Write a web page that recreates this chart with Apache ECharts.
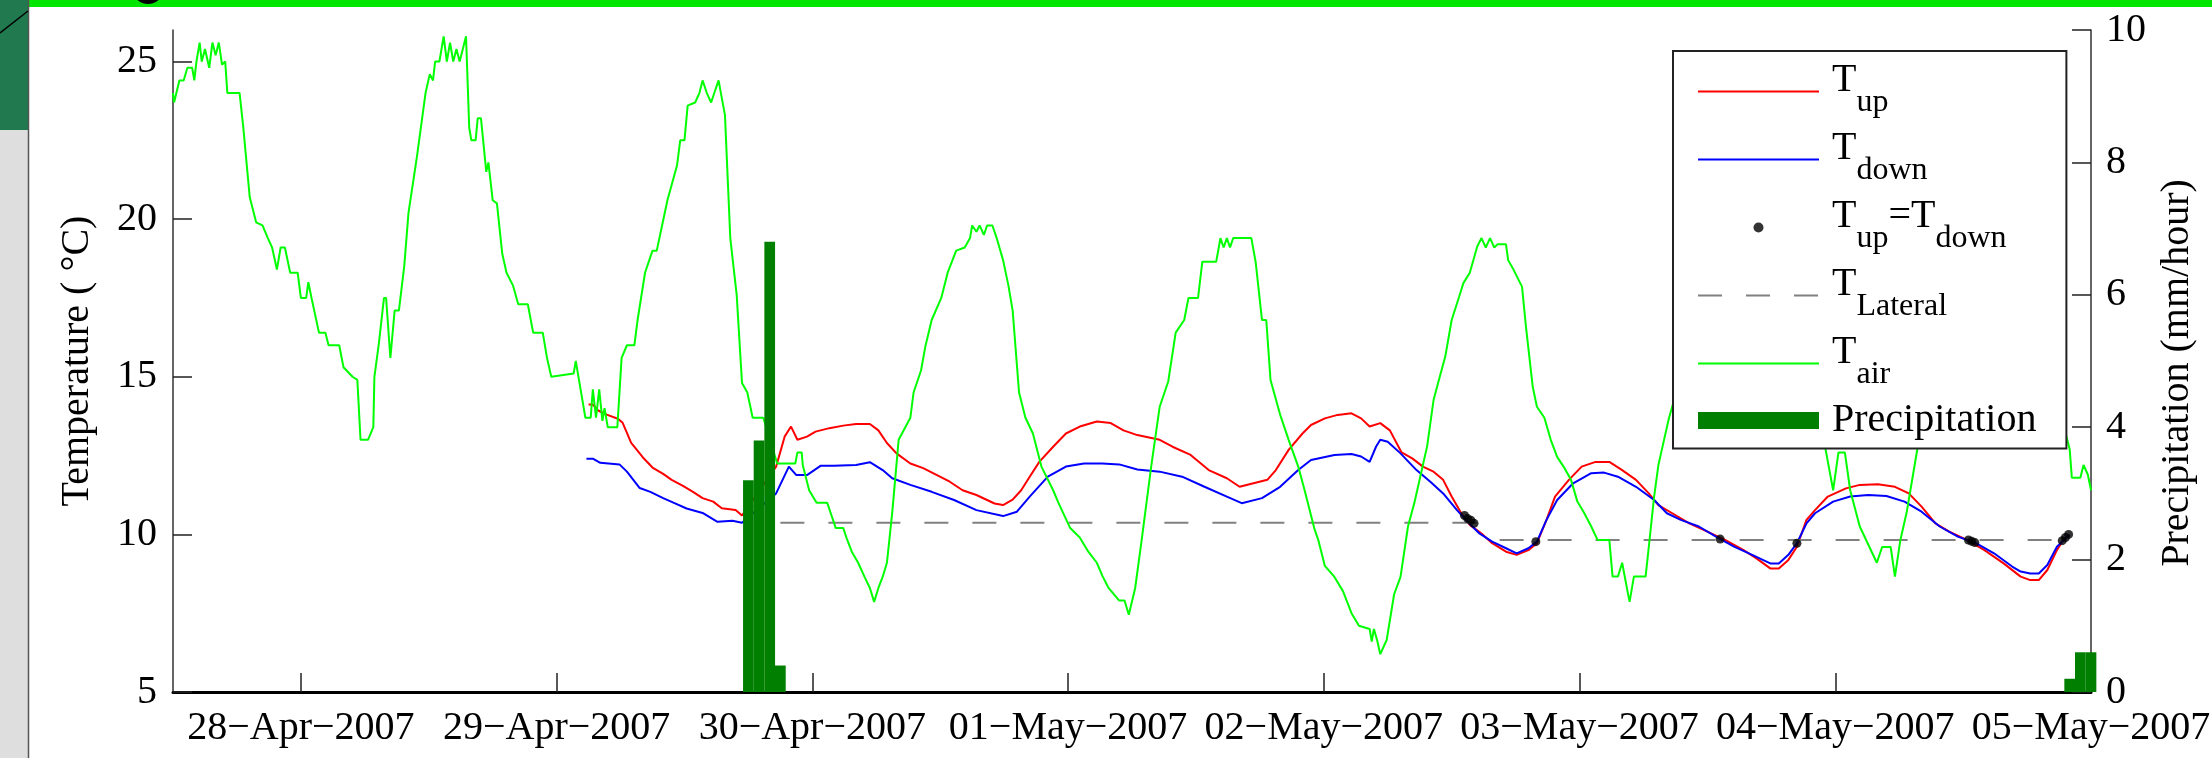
<!DOCTYPE html>
<html>
<head>
<meta charset="utf-8">
<title>Stream temperatures and precipitation, 28 Apr - 5 May 2007</title>
<script src="https://cdn.jsdelivr.net/npm/echarts@6.0.0/dist/echarts.min.js"></script>
<style>
  html, body { margin: 0; padding: 0; background: #fff; }
  #chart { width: 2212px; height: 758px; }
</style>
</head>
<body>
<div id="chart"></div>
<script>
// time is in hours counted from 28-Apr-2007 00:00
const dayTicks = [0, 24, 48, 72, 96, 120, 144, 168]
const dayLabels = ['28−Apr−2007', '29−Apr−2007', '30−Apr−2007', '01−May−2007',
  '02−May−2007', '03−May−2007', '04−May−2007', '05−May−2007']
const tempTicks = [5, 10, 15, 20, 25]
const precipTicks = [0, 2, 4, 6, 8, 10]

// T_up (red)
const upTime = [27, 27.4, 27.9, 28.7, 29.75, 30.2, 31, 32.1, 33, 34, 34.8, 35.9, 36.8, 37.7, 38.7, 39.5, 40.8, 41.4, 44.6, 45.4,
  46, 46.6, 47.5, 48.3, 49.6, 50.9, 52.1, 53.4, 54.2, 55, 55.9, 57.2, 58.4, 59.7, 60.9, 62.1, 63.4, 65.1, 65.9, 66.8,
  67.6, 68.4, 69.3, 70.6, 71.8, 73.1, 74.7, 76, 77.2, 78.5, 80.6, 81.8, 83.5, 85.2, 86.9, 88.1, 89.4, 90.7, 91.5, 92.7,
  94, 94.8, 96.1, 97.3, 98.6, 99.5, 100.3, 101.3, 102.2, 103.3, 104.3, 105.3, 106.3, 107.2, 108, 108.9, 109.7, 110.8, 111.8, 113.1,
  114.1, 115.2, 116, 116.9, 117.7, 119, 120.2, 121.5, 122.8, 124, 125.3, 126.5, 127.4, 128.7, 130.3, 132, 133.7, 135.4, 136.6, 137.9,
  138.7, 139.6, 140.4, 141.3, 142.1, 143.3, 145, 146.3, 148, 149.6, 150.9, 152.1, 153.4, 154.7, 156.4, 158, 159.8, 161.4, 162.3, 163.1,
  163.9, 164.8, 165.4, 166]
const upTemp = [14.12, 14.12, 13.93, 13.8, 13.67, 13.54, 12.9, 12.44, 12.12, 11.92, 11.73, 11.53, 11.35, 11.15, 11.04, 10.83, 10.77, 10.6, 12.15, 13.1,
  13.42, 13.0, 13.1, 13.26, 13.37, 13.45, 13.5, 13.5, 13.3, 12.9, 12.57, 12.25, 12.1, 11.88, 11.67, 11.4, 11.25, 10.98, 10.93, 11.1,
  11.4, 11.83, 12.3, 12.78, 13.2, 13.42, 13.58, 13.53, 13.3, 13.15, 13.0, 12.78, 12.52, 12.04, 11.78, 11.51, 11.62, 11.73, 12.04, 12.68,
  13.2, 13.47, 13.68, 13.79, 13.84, 13.68, 13.42, 13.53, 13.3, 12.6, 12.41, 12.15, 11.99, 11.73, 11.2, 10.67, 10.3, 10.03, 9.72, 9.45,
  9.35, 9.5, 9.72, 10.46, 11.2, 11.73, 12.15, 12.3, 12.3, 12.04, 11.73, 11.3, 10.93, 10.67, 10.35, 10.09, 9.82, 9.5, 9.24, 8.92,
  8.92, 9.19, 9.61, 10.46, 10.77, 11.2, 11.46, 11.57, 11.59, 11.51, 11.3, 10.88, 10.35, 10.09, 9.82, 9.5, 9.08, 8.66, 8.55, 8.55,
  8.87, 9.5, 9.82, 9.98]

// T_down (blue)
const downTime = [26.8, 27.4, 28.1, 29.9, 30.6, 31.8, 32.8, 34, 34.8, 36.2, 37.7, 39.1, 40.5, 41.4, 44.6, 45.8, 46.5, 47.5, 48.8, 50,
  52.1, 53.4, 54.6, 55.5, 57.2, 59.2, 61.3, 63.4, 65.9, 67.2, 68.4, 70.1, 71.8, 73.5, 75.2, 76.8, 78.5, 80.6, 82.7, 84.8,
  86.9, 88.3, 90.2, 91.9, 93.6, 94.8, 97, 98.6, 99.5, 100.3, 100.9, 101.3, 102, 103.2, 104.7, 106, 107.2, 108.5, 109.5, 110.6,
  111.8, 113.1, 114.1, 115.2, 116, 116.9, 117.9, 119.4, 121.1, 122.3, 123.6, 125.3, 127, 128.2, 129.5, 131.2, 132.8, 134.5, 136.2, 137.9,
  138.7, 139.6, 140.4, 141.3, 142.1, 143.8, 145.4, 147.1, 148.8, 150.5, 152.1, 153.8, 155.5, 157.2, 158.9, 160.6, 161.4, 162.3, 163.1, 163.9,
  164.8, 165.6, 166]
const downTemp = [12.4, 12.4, 12.27, 12.22, 11.99, 11.47, 11.35, 11.15, 11.03, 10.82, 10.68, 10.4, 10.43, 10.37, 11.3, 12.15, 11.88, 11.88, 12.18, 12.18,
  12.2, 12.29, 12.04, 11.78, 11.57, 11.35, 11.09, 10.77, 10.58, 10.72, 11.2, 11.83, 12.15, 12.25, 12.25, 12.22, 12.06, 11.99, 11.83, 11.51,
  11.2, 10.99, 11.15, 11.51, 12.04, 12.36, 12.52, 12.55, 12.47, 12.3, 12.78, 13.0, 12.94, 12.57, 12.04, 11.67, 11.3, 10.77, 10.4, 10.03,
  9.77, 9.56, 9.4, 9.56, 9.77, 10.46, 11.09, 11.62, 11.94, 11.96, 11.83, 11.51, 11.09, 10.67, 10.46, 10.25, 9.93, 9.61, 9.35, 9.08,
  9.08, 9.35, 9.72, 10.35, 10.67, 11.04, 11.2, 11.25, 11.22, 11.04, 10.72, 10.25, 9.93, 9.72, 9.4, 8.98, 8.82, 8.76, 8.76, 9.03,
  9.61, 9.87, 9.98]

// points where T_up = T_down
const eqTime = [109.2, 109.5, 109.8, 110.1, 115.9, 133.2, 140.4, 156.5, 156.8, 157.1, 165.3, 165.6, 165.9]
const eqTemp = [10.6, 10.5, 10.45, 10.35, 9.77, 9.85, 9.72, 9.82, 9.78, 9.74, 9.8, 9.9, 10.0]

// T_Lateral (dashed), null breaks the line between the two levels
const lateralTime = [45, 112.4, 112.45, 112.5, 166]
const lateralTemp = [10.37, 10.37, null, 9.82, 9.82]

// T_air (green)
const airTime = [-12, -11.9, -11.4, -11, -10.65, -10.2, -10, -9.8, -9.5, -9.3, -9, -8.6, -8.3, -8, -7.7, -7.4, -7.1, -6.9, -5.75, -5.4,
  -4.8, -4.2, -3.6, -3.1, -2.7, -2.25, -1.9, -1.5, -1, -0.3, 0, 0.5, 0.7, 1, 1.7, 2.3, 2.6, 3.6, 4, 4.85,
  5.3, 5.6, 6.3, 6.8, 6.9, 7.3, 7.8, 8, 8.4, 8.8, 9.2, 9.7, 10.1, 10.9, 11.7, 12.1, 12.4, 12.6, 13, 13.4,
  13.7, 14, 14.3, 14.6, 14.9, 15.2, 15.5, 15.8, 16, 16.4, 16.6, 16.9, 17.4, 17.6, 18, 18.4, 18.9, 19.3, 19.9, 20.4,
  21.3, 21.8, 22.7, 23.1, 23.5, 25.6, 25.8, 26.1, 26.7, 27.2, 27.4, 27.7, 28, 28.3, 28.5, 28.8, 29.7, 30.1, 30.6, 31.3,
  31.6, 32.3, 33, 33.4, 33.9, 34.4, 35.3, 35.6, 36, 36.3, 37, 37.4, 37.7, 38.1, 38.5, 38.8, 39.2, 39.8, 40.3, 40.9,
  41.4, 41.9, 42.4, 43.4, 44.7, 46.4, 46.6, 47, 47.1, 47.7, 48.4, 49.4, 49.8, 50.2, 50.9, 51.2, 51.7, 52.3, 52.9, 53.4,
  53.8, 54.2, 54.6, 55, 55.5, 56.1, 57.2, 57.5, 58.2, 58.6, 59.2, 60.1, 60.7, 61.5, 62.3, 62.8, 63, 63.4, 63.7, 64.1,
  64.4, 64.9, 65.3, 65.9, 66.4, 66.8, 67.4, 68, 68.7, 69.5, 70.6, 71.1, 72.2, 73.1, 73.9, 74.7, 75.2, 75.8, 76.8, 77.3,
  77.7, 78.3, 78.9, 79.8, 80.6, 81.4, 82.1, 82.9, 83.3, 84.2, 84.6, 85.9, 86.3, 86.6, 86.9, 87.2, 87.5, 89.2, 89.6, 90.2,
  90.6, 91, 91.9, 92.7, 93.6, 94.2, 95.1, 95.5, 96.1, 97, 97.8, 98.6, 99.3, 100.3, 100.5, 100.7, 101, 101.3, 101.9, 102.6,
  103.2, 103.9, 104.5, 105.1, 105.7, 106.3, 106.8, 107.4, 108, 108.7, 109.1, 109.7, 110.4, 110.8, 111.2, 111.6, 112, 112.3, 113.1, 113.3,
  113.8, 114.6, 115, 115.6, 116, 116.7, 117.3, 117.9, 118.5, 119.2, 119.8, 120.4, 121.1, 121.7, 122.8, 123.1, 123.6, 124, 124.5, 124.7,
  125.1, 126.2, 126.5, 127, 127.4, 127.8, 128.4, 129.5, 131, 132.5, 134, 135.5, 137, 138.5, 140, 141.5, 142.5, 143.1, 143.8, 144.3,
  144.9, 145.4, 146.3, 147.9, 148.4, 149.2, 149.6, 150.1, 150.7, 151.3, 151.7, 153, 154.5, 156, 157.5, 159, 160.5, 162, 163.5, 165,
  166, 166.2, 167, 167.3, 167.7, 168]
const airTemp = [24.0, 23.7, 24.4, 24.4, 24.8, 24.8, 24.4, 25.0, 25.6, 25.0, 25.4, 24.8, 25.6, 25.2, 25.6, 24.9, 25.0, 24.0, 24.0, 22.9,
  20.7, 19.9, 19.8, 19.4, 19.1, 18.4, 19.1, 19.1, 18.3, 18.3, 17.5, 17.5, 18.0, 17.5, 16.4, 16.4, 16.0, 16.0, 15.3, 15.0,
  14.9, 13.0, 13.0, 13.4, 15.0, 16.0, 17.5, 17.5, 15.6, 17.1, 17.1, 18.5, 20.2, 22.0, 24.0, 24.6, 24.4, 25.0, 25.0, 25.8,
  25.0, 25.6, 25.0, 25.4, 25.0, 25.4, 25.8, 22.9, 22.5, 22.5, 23.2, 23.2, 21.5, 21.8, 20.6, 20.5, 18.9, 18.3, 17.9, 17.3,
  17.3, 16.4, 16.4, 15.6, 15.0, 15.1, 15.5, 14.9, 13.7, 13.7, 14.6, 13.7, 14.6, 13.6, 14.0, 13.4, 13.4, 15.6, 16.0, 16.0,
  16.8, 18.3, 19.0, 19.0, 19.8, 20.6, 21.7, 22.5, 22.5, 23.6, 23.7, 24.0, 24.4, 24.0, 23.7, 24.0, 24.4, 23.3, 19.4, 17.6,
  14.8, 14.5, 13.7, 13.7, 12.25, 12.25, 12.6, 12.6, 12.2, 11.4, 11.0, 11.0, 10.6, 10.2, 10.2, 9.9, 9.45, 9.1, 8.65, 8.3,
  7.86, 8.3, 8.65, 9.1, 10.7, 13.0, 13.7, 14.5, 15.2, 15.95, 16.8, 17.5, 18.3, 19.0, 19.1, 19.4, 19.8, 19.6, 19.8, 19.5,
  19.8, 19.8, 19.4, 18.7, 17.9, 17.1, 14.5, 13.7, 13.2, 12.15, 11.4, 11.0, 10.2, 9.9, 9.45, 9.1, 8.7, 8.3, 7.9, 7.9,
  7.45, 8.3, 9.8, 12.15, 14.05, 14.85, 16.4, 16.8, 17.5, 17.5, 18.65, 18.65, 19.4, 19.1, 19.4, 19.1, 19.4, 19.4, 18.65, 16.8,
  16.8, 14.9, 13.8, 13.0, 12.15, 11.4, 10.2, 9.8, 9.0, 8.65, 8.2, 7.5, 7.1, 7.0, 6.6, 7.0, 6.65, 6.2, 6.65, 8.1,
  8.65, 10.25, 11.0, 11.9, 12.8, 14.26, 14.9, 15.64, 16.8, 17.54, 17.97, 18.3, 19.13, 19.4, 19.1, 19.4, 19.1, 19.2, 19.2, 18.7,
  18.4, 17.86, 16.5, 14.7, 14.05, 13.7, 13.0, 12.46, 12.15, 11.73, 11.04, 10.7, 10.25, 9.82, 9.82, 8.66, 8.66, 9.1, 8.2, 7.86,
  8.66, 8.66, 9.6, 11.2, 12.2, 12.8, 13.7, 15.0, 16.5, 17.6, 18.5, 19.0, 19.0, 18.2, 16.0, 14.0, 13.2, 12.68, 11.4, 12.6,
  12.6, 11.4, 10.25, 9.1, 9.6, 9.6, 8.66, 9.8, 10.7, 11.9, 12.7, 14.2, 15.8, 17.2, 18.2, 18.8, 19.0, 18.2, 16.4, 14.0,
  12.7, 11.8, 11.8, 12.2, 11.9, 11.4]

// hourly precipitation (mm/hour)
const precipTime = [42, 43, 44, 45, 166, 167, 168]
const precipRate = [3.2, 3.8, 6.8, 0.4, 0.2, 0.6, 0.6]

const serif = 'Liberation Serif'
const pairs = (xs, ys) => xs.map((x, i) => [x, ys[i]])

const legendText = {
  'Tup': '{t|T}{s|up}',
  'Tdown': '{t|T}{s|down}',
  'Tup=Tdown': '{t|T}{s|up}{e|=T}{s|down}',
  'TLateral': '{t|T}{s|Lateral}',
  'Tair': '{t|T}{s|air}',
  'Precipitation': '{p|Precipitation}'
}

const tickStyle = { color: '#222', width: 1.5 }

const chart = echarts.init(document.getElementById('chart'), null, { renderer: 'canvas' })

chart.setOption({
  animation: false,
  backgroundColor: '#fff',
  textStyle: { fontFamily: serif },
  grid: { left: 173, right: 121, top: 30, bottom: 66, containLabel: false, outerBoundsMode: 'none' },
  legend: {
    orient: 'vertical',
    left: 1673,
    top: 51,
    padding: [9.5, 30, 8, 24],
    backgroundColor: '#fff',
    borderColor: '#222',
    borderWidth: 2,
    borderRadius: 0,
    itemWidth: 121,
    itemHeight: 17,
    itemGap: 10,
    selectedMode: false,
    align: 'left',
    formatter: name => legendText[name],
    textStyle: {
      fontFamily: serif,
      fontSize: 40,
      color: '#000',
      rich: {
        t: { fontFamily: serif, fontSize: 40, color: '#000', padding: [0, 0, 22, 8] },
        e: { fontFamily: serif, fontSize: 40, color: '#000', padding: [0, 0, 22, 0] },
        s: { fontFamily: serif, fontSize: 32, color: '#000', padding: [22, 0, 0, 0] },
        p: { fontFamily: serif, fontSize: 40, color: '#000', padding: [0, 0, 0, 8] }
      }
    },
    data: [
      { name: 'Tup', itemStyle: { opacity: 0 }, lineStyle: { width: 2 } },
      { name: 'Tdown', itemStyle: { opacity: 0 }, lineStyle: { width: 2 } },
      { name: 'Tup=Tdown', icon: 'path://M0 0M121 17M55.5 8.5a5 5 0 1 0 10 0a5 5 0 1 0 -10 0z' },
      { name: 'TLateral', itemStyle: { opacity: 0 }, lineStyle: { width: 2, type: [24, 24], color: '#808080' } },
      { name: 'Tair', itemStyle: { opacity: 0 }, lineStyle: { width: 2 } },
      { name: 'Precipitation', icon: 'rect' }
    ]
  },
  xAxis: {
    type: 'value',
    min: -12,
    max: 168,
    axisLine: { show: true, onZero: false, lineStyle: { color: '#000', width: 3 } },
    axisTick: { show: true, inside: true, length: 19, customValues: dayTicks, lineStyle: tickStyle },
    axisLabel: {
      customValues: dayTicks,
      formatter: v => dayLabels[dayTicks.indexOf(v)],
      fontFamily: serif, fontSize: 40, color: '#000', margin: 16
    },
    splitLine: { show: false }
  },
  yAxis: [
    {
      type: 'value',
      position: 'left',
      min: 5,
      max: 26,
      name: 'Temperature ( °C)',
      nameLocation: 'middle',
      nameRotate: 90,
      nameGap: 76,
      nameTextStyle: { fontFamily: serif, fontSize: 40, color: '#000' },
      axisLine: { show: true, onZero: false, lineStyle: { color: '#333', width: 1.5 } },
      axisTick: { show: true, inside: true, length: 19, customValues: tempTicks, lineStyle: tickStyle },
      axisLabel: { customValues: tempTicks, fontFamily: serif, fontSize: 40, color: '#000', margin: 16 },
      splitLine: { show: false }
    },
    {
      type: 'value',
      position: 'right',
      min: 0,
      max: 10,
      interval: 2,
      name: 'Precipitation (mm/hour)',
      nameLocation: 'middle',
      nameRotate: 90,
      nameGap: 66,
      nameTextStyle: { fontFamily: serif, fontSize: 40, color: '#000', padding: [0, 24, 0, 0] },
      axisLine: { show: true, onZero: false, lineStyle: { color: '#333', width: 1.5 } },
      axisTick: { show: true, inside: true, length: 19, customValues: precipTicks, lineStyle: tickStyle },
      axisLabel: { customValues: precipTicks, fontFamily: serif, fontSize: 40, color: '#000', margin: 15 },
      splitLine: { show: false }
    }
  ],
  series: [
    {
      name: 'Tup', type: 'line', yAxisIndex: 0, data: pairs(upTime, upTemp),
      symbol: 'none', showSymbol: false, z: 2,
      lineStyle: { color: '#ff0000', width: 2 }, itemStyle: { color: '#ff0000' }
    },
    {
      name: 'Tdown', type: 'line', yAxisIndex: 0, data: pairs(downTime, downTemp),
      symbol: 'none', showSymbol: false, z: 2,
      lineStyle: { color: '#0000ff', width: 2 }, itemStyle: { color: '#0000ff' }
    },
    {
      name: 'Tup=Tdown', type: 'scatter', yAxisIndex: 0, data: pairs(eqTime, eqTemp),
      symbol: 'circle', symbolSize: 9, z: 4,
      itemStyle: { color: '#000' }
    },
    {
      name: 'TLateral', type: 'line', yAxisIndex: 0, data: pairs(lateralTime, lateralTemp),
      symbol: 'none', showSymbol: false, connectNulls: false, z: 2,
      lineStyle: { color: '#808080', width: 2, type: [24, 24] }, itemStyle: { color: '#808080' }
    },
    {
      name: 'Tair', type: 'line', yAxisIndex: 0, data: pairs(airTime, airTemp),
      symbol: 'none', showSymbol: false, z: 3,
      lineStyle: { color: '#00ff00', width: 2 }, itemStyle: { color: '#00ff00' }
    },
    {
      name: 'Precipitation', type: 'bar', yAxisIndex: 1, data: pairs(precipTime, precipRate),
      barWidth: 10.7, clip: true, z: 5,
      itemStyle: { color: '#007f00' }
    }
  ],
  // window chrome that frames the original screenshot
  graphic: [
    { type: 'rect', z: 100, shape: { x: 28, y: 0, width: 2184, height: 7 }, style: { fill: '#00e600' } },
    { type: 'rect', z: 100, shape: { x: 0, y: 0, width: 28, height: 130 }, style: { fill: '#217a4f' } },
    { type: 'rect', z: 100, shape: { x: 0, y: 130, width: 28, height: 628 }, style: { fill: '#dedede' } },
    { type: 'line', z: 100, shape: { x1: 28.5, y1: 0, x2: 28.5, y2: 758 }, style: { stroke: '#555', lineWidth: 1.5 } },
    { type: 'line', z: 100, shape: { x1: 0, y1: 33, x2: 28, y2: 11 }, style: { stroke: '#000', lineWidth: 1.5 } },
    { type: 'circle', z: 100, shape: { cx: 148, cy: -12, r: 16 }, style: { fill: '#000' } }
  ]
})
</script>
</body>
</html>
